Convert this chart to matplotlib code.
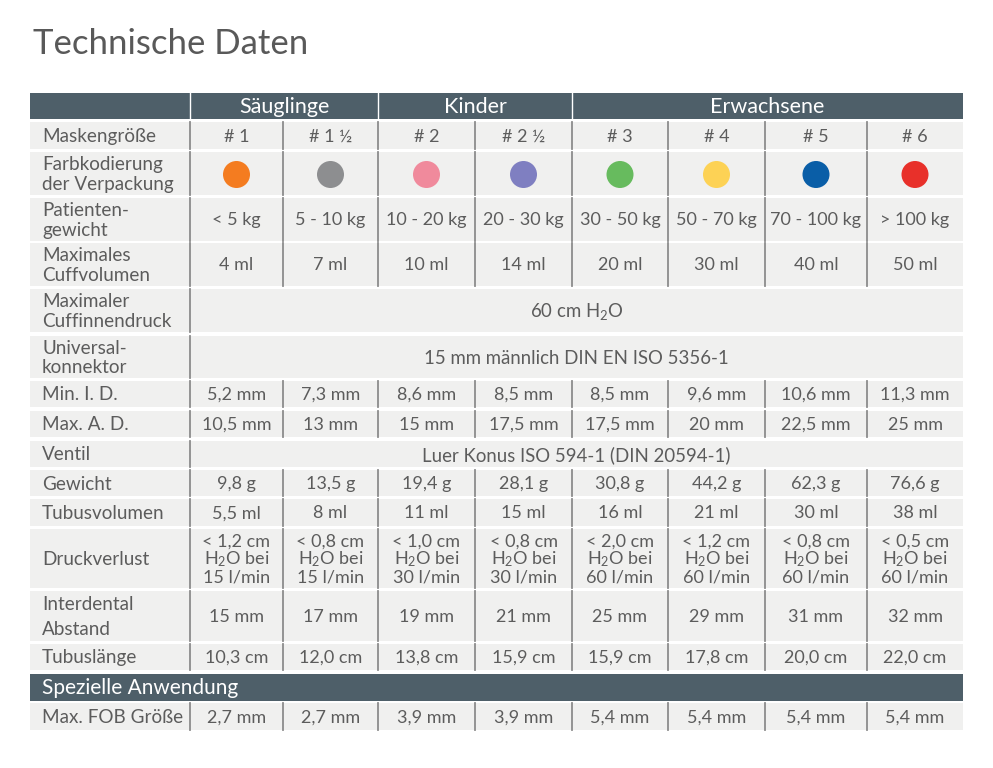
import matplotlib
matplotlib.use("Agg")
import matplotlib.pyplot as plt
from matplotlib.patches import Rectangle, Circle

plt.rcParams['font.family'] = ['Lato', 'DejaVu Sans']
plt.rcParams['mathtext.fontset'] = 'custom'
plt.rcParams['mathtext.rm'] = 'Lato'
plt.rcParams['mathtext.default'] = 'regular'

# ---- Daten ----
title = "Technische Daten"
groups = ["Säuglinge", "Kinder", "Erwachsene"]
group_span = [2, 2, 4]
mask_sizes = ["# 1", "# 1 ½", "# 2", "# 2 ½", "# 3", "# 4", "# 5", "# 6"]
pack_colors = ["#f47c20", "#8d8e90", "#f08a9c", "#7f7fc1", "#67bb5e", "#fdd255", "#0a5ea7", "#e8302a"]
patient_weight = ["< 5 kg", "5 - 10 kg", "10 - 20 kg", "20 - 30 kg", "30 - 50 kg", "50 - 70 kg", "70 - 100 kg", "> 100 kg"]
cuff_volume = ["4 ml", "7 ml", "10 ml", "14 ml", "20 ml", "30 ml", "40 ml", "50 ml"]
cuff_pressure = "60 cm H$_2$O"
connector = "15 mm männlich DIN EN ISO 5356-1"
min_id = ["5,2 mm", "7,3 mm", "8,6 mm", "8,5 mm", "8,5 mm", "9,6 mm", "10,6 mm", "11,3 mm"]
max_ad = ["10,5 mm", "13 mm", "15 mm", "17,5 mm", "17,5 mm", "20 mm", "22,5 mm", "25 mm"]
valve = "Luer Konus ISO 594-1 (DIN 20594-1)"
weight = ["9,8 g", "13,5 g", "19,4 g", "28,1 g", "30,8 g", "44,2 g", "62,3 g", "76,6 g"]
tube_volume = ["5,5 ml", "8 ml", "11 ml", "15 ml", "16 ml", "21 ml", "30 ml", "38 ml"]
loss_limit = ["1,2", "0,8", "1,0", "0,8", "2,0", "1,2", "0,8", "0,5"]
loss_flow = ["15", "15", "30", "30", "60", "60", "60", "60"]
interdental = ["15 mm", "17 mm", "19 mm", "21 mm", "25 mm", "29 mm", "31 mm", "32 mm"]
tube_length = ["10,3 cm", "12,0 cm", "13,8 cm", "15,9 cm", "15,9 cm", "17,8 cm", "20,0 cm", "22,0 cm"]
special_title = "Spezielle Anwendung"
fob_size = ["2,7 mm", "2,7 mm", "3,9 mm", "3,9 mm", "5,4 mm", "5,4 mm", "5,4 mm", "5,4 mm"]

pressure_loss = ["< %s cm\nH$_2$O bei\n%s l/min" % (a, b) for a, b in zip(loss_limit, loss_flow)]

rows = [
    ("Maskengröße", mask_sizes),
    ("Farbkodierung\nder Verpackung", pack_colors),
    ("Patienten-\ngewicht", patient_weight),
    ("Maximales\nCuffvolumen", cuff_volume),
    ("Maximaler\nCuffinnendruck", cuff_pressure),
    ("Universal-\nkonnektor", connector),
    ("Min. I. D.", min_id),
    ("Max. A. D.", max_ad),
    ("Ventil", valve),
    ("Gewicht", weight),
    ("Tubusvolumen", tube_volume),
    ("Druckverlust", pressure_loss),
    ("Interdental\nAbstand", interdental),
    ("Tubuslänge", tube_length),
    (special_title, None),
    ("Max. FOB Größe", fob_size),
]

# ---- Layout (Pixel) ----
W, H = 993, 768
left, label_right, right = 30, 190, 963
col_edges = [190, 283, 378, 475, 572, 668, 765, 867, 963]
head_top, head_bot = 93, 119
row_y = [(122, 149), (152, 195), (198, 241), (243, 286), (289, 332), (336, 378),
         (381, 407), (411, 437), (441, 467), (470, 496), (499, 526), (529, 588),
         (591, 641), (644, 670), (674, 701), (703, 730)]

dark = "#4e5f69"
cell = "#f0f0ef"
txt = "#5c5c5c"
line = "#8c8c8c"
fs_label = 13.6
fs_val = 13

fig = plt.figure(figsize=(W / 100, H / 100), dpi=100)
ax = fig.add_axes([0, 0, 1, 1])
ax.set_xlim(0, W)
ax.set_ylim(H, 0)
ax.axis("off")

ax.text(33, 44, title, fontsize=25, color="#595959", va="center", ha="left")

# Kopfzeile
ax.add_patch(Rectangle((left, head_top), right - left, head_bot - head_top, color=dark, lw=0))
start = 0
for g, n in zip(groups, group_span):
    x0, x1 = col_edges[start], col_edges[start + n]
    ax.text((x0 + x1) / 2, (head_top + head_bot) / 2 + 1, g, color="white", fontsize=15.5,
            ha="center", va="center")
    ax.plot([x0, x0], [head_top, head_bot], color="white", lw=1)
    start += n

for (label, vals), (y0, y1) in zip(rows, row_y):
    yc = (y0 + y1) / 2 + 1
    if vals is None:
        ax.add_patch(Rectangle((left, y0), right - left, y1 - y0, color=dark, lw=0))
        ax.text(42, yc, label, color="white", fontsize=15, ha="left", va="center")
        continue
    ax.add_patch(Rectangle((left, y0), right - left, y1 - y0, color=cell, lw=0))
    ls = 1.6 if label.startswith("Interdental") else 1.2
    ax.text(42, yc, label, color=txt, fontsize=fs_label, ha="left", va="center", linespacing=ls)
    ax.plot([label_right, label_right], [y0, y1], color=line, lw=1.3)
    if isinstance(vals, str):
        ax.text((col_edges[0] + col_edges[-1]) / 2, yc, vals, color=txt, fontsize=fs_val + 0.4,
                ha="center", va="center")
        continue
    for i, v in enumerate(vals):
        x0, x1 = col_edges[i], col_edges[i + 1]
        xc = (x0 + x1) / 2
        if i > 0:
            ax.plot([x0, x0], [y0, y1], color=line, lw=1.3)
        if label.startswith("Farbkodierung"):
            ax.add_patch(Circle((xc, yc), 13.5, color=v, lw=0))
        else:
            ax.text(xc, yc, v, color=txt, fontsize=fs_val, ha="center", va="center",
                    linespacing=1.0)

fig.savefig("out.png", dpi=100)
